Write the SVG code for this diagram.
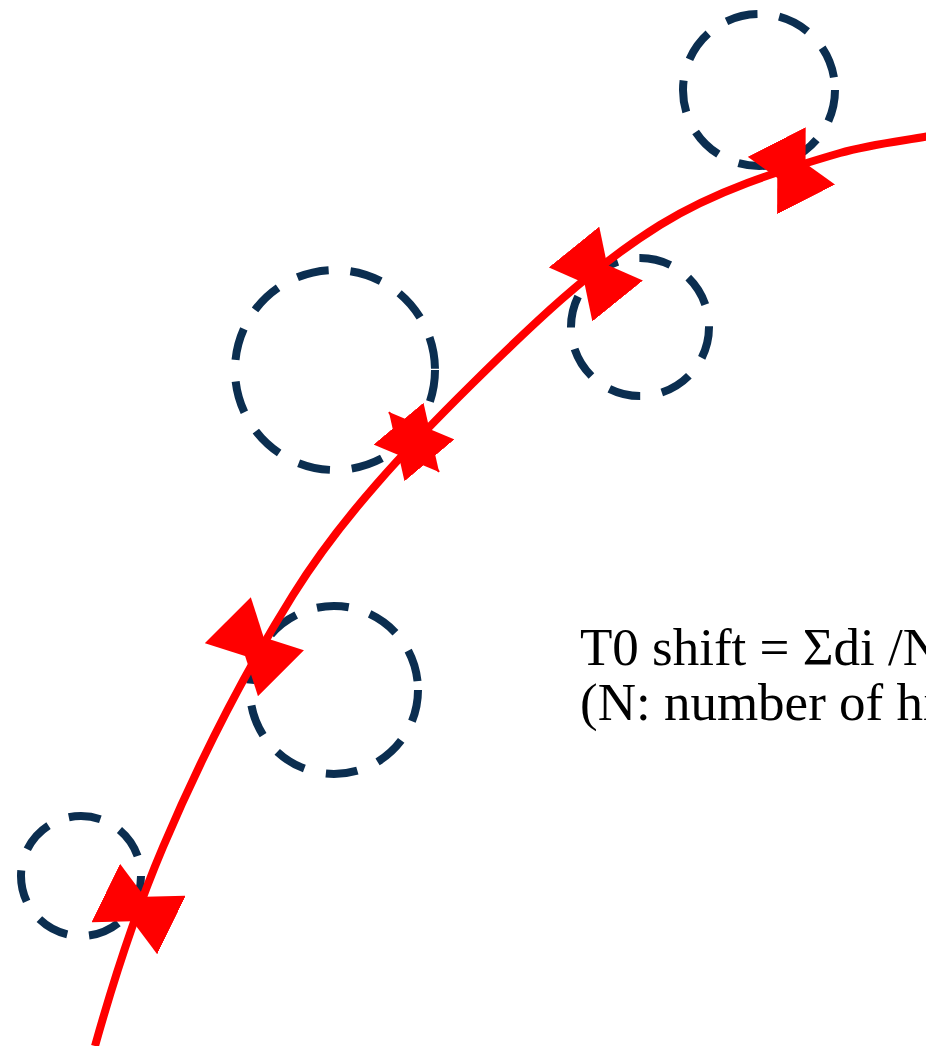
<svg xmlns="http://www.w3.org/2000/svg" width="926" height="1046" viewBox="0 0 926 1046">
  <style>
    .hit { fill: none; stroke: #0b2e50; stroke-width: 8; stroke-dasharray: 32 22; }
    .track { fill: none; stroke: #ff0000; stroke-width: 8; }
    .dist { stroke: #ff0000; stroke-width: 2; marker-start: url(#head); marker-end: url(#head); }
    .label { font-family: "Liberation Serif", "Times New Roman", serif; font-size: 53px; fill: #000000; }
  </style>
  <defs>
    <marker id="head" viewBox="0 0 63 65" refX="63" refY="32.5" markerWidth="63" markerHeight="65" markerUnits="userSpaceOnUse" orient="auto-start-reverse">
      <path d="M0,0 L63,32.5 L0,65 Z" fill="#ff0000"/>
    </marker>
  </defs>

  <!-- hit circles (drift circles) -->
  <g id="hit1"><circle class="hit" cx="81" cy="876" r="60"/></g>
  <g id="hit2"><circle class="hit" cx="334" cy="690" r="84"/></g>
  <g id="hit3"><circle class="hit" cx="335" cy="370" r="100"/></g>
  <g id="hit4"><circle class="hit" cx="640" cy="327" r="69"/></g>
  <g id="hit5"><circle class="hit" cx="759" cy="90" r="76"/></g>

  <!-- fitted track -->
  <g id="track">
    <path class="track" d="M95,1046 C114.7,975.9 136.2,910.2 163,847 C199.9,760.1 242.9,675.3 293,595 C342.1,516.2 407.2,447.9 473,383 C530.9,325.9 590.6,268.2 660,225 C714.9,190.8 778,171.1 840,153 C869.3,144.5 900,141.2 930,136"/>
  </g>

  <!-- residual distances d_i between hits and track -->
  <g id="connectors">
    <line class="dist" x1="114.8" y1="897.4" x2="162.4" y2="920.6"/>
    <line class="dist" x1="236.4" y1="628.7" x2="272.4" y2="664.7"/>
    <line class="dist" x1="388.9" y1="412.1" x2="439.1" y2="471.9"/>
    <line class="dist" x1="578" y1="252" x2="613.6" y2="296"/>
    <line class="dist" x1="777.4" y1="143.3" x2="805.4" y2="198.1"/>
  </g>

  <g id="formula">
    <text class="label" x="580" y="665">T0 shift = Σdi /N</text>
    <text class="label" x="580" y="720">(N: number of hits)</text>
  </g>
</svg>
